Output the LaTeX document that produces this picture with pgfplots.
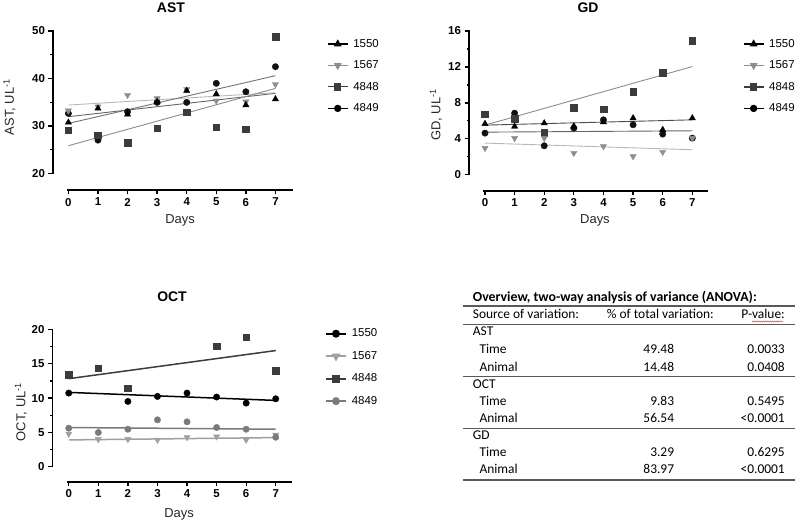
\documentclass[border=0pt]{standalone}
\usepackage{fontspec}
\setmainfont{Liberation Sans}
\newfontfamily\tablefont{Carlito}
\usepackage{pgfplots}
\pgfplotsset{compat=1.18}
\usetikzlibrary{decorations.pathmorphing}

\definecolor{cA}{HTML}{000000}
\definecolor{cB}{HTML}{8E8E8E}
\definecolor{cC}{HTML}{3C3C3C}
\definecolor{cD}{HTML}{111111}
\definecolor{oB}{HTML}{A0A0A0}
\definecolor{oD}{HTML}{7A7A7A}

\pgfplotsset{
  gp/.style={
    scale only axis, clip=false,
    axis x line*=bottom, axis y line*=left,
    axis line style={draw=none},
    tick align=outside,
    major tick length=4.5bp, minor tick length=2.5bp,
    tick style={black, line width=1.3bp},
    xtick={0,1,2,3,4,5,6,7},
    ticklabel style={font=\bfseries\fontsize{11.5}{13}\selectfont},
    /pgf/number format/assume math mode=true,
    label style={font=\fontsize{13}{15}\selectfont, text=black!85},
    legend style={draw=none, fill=none, inner sep=0pt, anchor=north west,
      font=\fontsize{11.5}{13}\selectfont, row sep=8bp, column sep=3bp},
    legend cell align=left,
    legend image code/.code={\draw[mark repeat=2,mark phase=2,#1] plot coordinates {(0bp,0bp) (10bp,0bp) (20bp,0bp)};},
  },
  mk/.style={only marks, mark size=3.3bp},
}
\tikzset{ptitle/.style={anchor=center, inner sep=0pt, font=\bfseries\fontsize{14}{16}\selectfont}}

\newcommand\TL[3]{\node[anchor=mid west, font=\tablefont\fontsize{13.5}{16}\selectfont, inner sep=0pt] at (#1,{522-#2}) {#3};}
\newcommand\TR[3]{\node[anchor=mid east, font=\tablefont\fontsize{13.5}{16}\selectfont, inner sep=0pt] at (#1,{522-#2}) {#3};}

\begin{document}
\begin{tikzpicture}
\useasboundingbox (0,0) rectangle (800bp,522bp);

% ---------------- AST ----------------
\begin{axis}[gp,
  at={(53bp,332bp)}, anchor=south west,
  width=240.2bp, height=159bp,
  xmin=-0.52, xmax=7.6, ymin=16.5, ymax=50,
  ytick={20,30,40,50}, minor ytick={25,35,45},
  xlabel={Days}, xlabel style={at={(axis description cs:0.529,-0.189)}, anchor=center},
  ylabel={AST, UL\textsuperscript{-1}}, ylabel style={at={(axis description cs:-0.181,0.522)}, anchor=center},
  legend style={at={(axis description cs:1.1407,0.962)}},
]
\addlegendimage{black, line width=1.1bp, mark=triangle*, mark size=3.5bp, mark options={solid}}
\addlegendimage{cB, line width=1.1bp, mark=triangle*, mark size=3.5bp, mark options={rotate=180}}
\addlegendimage{cC, line width=1.1bp, mark=square*, mark size=3.1bp}
\addlegendimage{black, line width=1.1bp, mark=*, mark size=3.1bp}
\legend{1550,1567,4848,4849}
% regression lines
\addplot[forget plot, color=black!60, line width=0.9bp] coordinates {(0,31.94) (7,36.86)};
\addplot[forget plot, color=black!28, line width=0.9bp] coordinates {(0,34.4) (7,37.0)};
\addplot[forget plot, color=black!45, line width=0.9bp] coordinates {(0,25.83) (7,37.91)};
\addplot[forget plot, color=black!55, line width=0.9bp] coordinates {(0,30.53) (7,40.58)};
% data
\addplot[forget plot, mk, mark=*, cD, mark size=3.2bp] coordinates {(0,32.64)(1,27.0)(2,33.0)(3,34.96)(4,34.96)(5,38.97)(6,37.2)(7,42.48)};
\addplot[forget plot, mk, mark=square*, cC] coordinates {(0,29.13)(1,28.07)(2,26.46)(3,29.48)(4,32.85)(5,29.69)(6,29.34)(7,48.8)};
\addplot[forget plot, mk, mark=triangle*, cB, mark size=3.6bp, mark options={rotate=180}] coordinates {(0,33.2)(1,34.05)(2,36.5)(3,35.8)(4,37.7)(5,35.3)(6,35.1)(7,38.76)};
\addplot[forget plot, mk, mark=triangle*, cA, mark size=3.6bp] coordinates {(0,30.74)(1,33.7)(2,32.43)(3,35.1)(4,37.42)(5,36.72)(6,34.4)(7,35.66)};
\draw[line width=1.8bp] (axis cs:-0.06,16.5) -- (axis cs:7.6,16.5);
\draw[line width=1.8bp] (axis cs:-0.52,19.85) -- (axis cs:-0.52,50.15);
\node[ptitle] at (axis description cs:0.491,1.145) {AST};
\end{axis}

% ---------------- GD ----------------
\begin{axis}[gp,
  at={(469bp,331.3bp)}, anchor=south west,
  width=239bp, height=159.7bp,
  xmin=-0.54, xmax=7.53, ymin=-1.78, ymax=16,
  ytick={0,4,8,12,16}, minor ytick={2,6,10,14},
  xlabel={Days}, xlabel style={at={(axis description cs:0.527,-0.183)}, anchor=center},
  ylabel={GD, UL\textsuperscript{-1}}, ylabel style={at={(axis description cs:-0.138,0.474)}, anchor=center},
  legend style={at={(axis description cs:1.146,0.962)}},
]
\addlegendimage{black, line width=1.1bp, mark=triangle*, mark size=3.5bp}
\addlegendimage{cB, line width=1.1bp, mark=triangle*, mark size=3.5bp, mark options={rotate=180}}
\addlegendimage{cC, line width=1.1bp, mark=square*, mark size=3.1bp}
\addlegendimage{black, line width=1.1bp, mark=*, mark size=3.1bp}
\legend{1550,1567,4848,4849}
\addplot[forget plot, color=black!70, line width=0.9bp] coordinates {(0,5.52) (7,6.11)};
\addplot[forget plot, color=black!28, line width=0.9bp] coordinates {(0,3.52) (7,2.78)};
\addplot[forget plot, color=black!45, line width=0.9bp] coordinates {(0,5.52) (7,12.04)};
\addplot[forget plot, color=black!60, line width=0.9bp] coordinates {(0,4.74) (7,4.89)};
\addplot[forget plot, mk, mark=*, cD, mark size=3.2bp] coordinates {(0,4.63)(1,6.85)(2,3.22)(3,5.19)(4,6.11)(5,5.56)(6,4.52)(7,4.07)};
\addplot[forget plot, mk, mark=square*, cC] coordinates {(0,6.74)(1,6.22)(2,4.70)(3,7.48)(4,7.30)(5,9.26)(6,11.37)(7,14.89)};
\addplot[forget plot, mk, mark=triangle*, cB, mark size=3.6bp, mark options={rotate=180}] coordinates {(0,2.96)(1,4.07)(2,4.07)(3,2.41)(4,3.15)(5,2.04)(6,2.52)(7,4.07)};
\addplot[forget plot, mk, mark=triangle*, cA, mark size=3.6bp] coordinates {(0,5.67)(1,5.37)(2,5.74)(3,5.4)(4,5.85)(5,6.3)(6,5.0)(7,6.3)};
\draw[line width=1.8bp] (axis cs:-0.06,-1.78) -- (axis cs:7.53,-1.78);
\draw[line width=1.8bp] (axis cs:-0.54,-0.08) -- (axis cs:-0.54,16.08);
\node[ptitle] at (axis description cs:0.498,1.144) {GD};
\end{axis}

% ---------------- OCT ----------------
\begin{axis}[gp,
  at={(52.5bp,40.3bp)}, anchor=south west,
  width=239.2bp, height=152.2bp,
  xmin=-0.55, xmax=7.54, ymin=-2.19, ymax=20,
  ytick={0,5,10,15,20}, minor ytick={2.5,7.5,12.5,17.5},
  xlabel={Days}, xlabel style={at={(axis description cs:0.529,-0.212)}, anchor=center},
  ylabel={OCT, UL\textsuperscript{-1}}, ylabel style={at={(axis description cs:-0.132,0.458)}, anchor=center},
  legend style={at={(axis description cs:1.139,1.018)}, row sep=9bp},
]
\addlegendimage{black, line width=1.7bp, mark=*, mark size=3.1bp}
\addlegendimage{oB, line width=1.7bp, mark=triangle*, mark size=3.5bp, mark options={rotate=180}}
\addlegendimage{cC, line width=1.7bp, mark=square*, mark size=3.1bp}
\addlegendimage{oD, line width=1.7bp, mark=*, mark size=3.1bp}
\legend{1550,1567,4848,4849}
\addplot[forget plot, color=black, line width=1.5bp] coordinates {(0,10.83) (7,9.66)};
\addplot[forget plot, color=oB, line width=1.5bp] coordinates {(0,3.9) (7,4.24)};
\addplot[forget plot, color=cC, line width=1.5bp] coordinates {(0,12.83) (7,16.93)};
\addplot[forget plot, color=oD, line width=1.5bp] coordinates {(0,5.71) (7,5.46)};
\addplot[forget plot, mk, mark=triangle*, oB, mark size=3.6bp, mark options={rotate=180}] coordinates {(0,4.78)(1,4.0)(2,4.0)(3,3.9)(4,4.29)(5,4.39)(6,3.9)(7,4.63)};
\addplot[forget plot, mk, mark=*, oD, mark size=3.2bp] coordinates {(0,5.61)(1,4.98)(2,5.46)(3,6.83)(4,6.54)(5,5.71)(6,5.46)(7,4.29)};
\addplot[forget plot, mk, mark=square*, cC] coordinates {(0,13.41)(1,14.34)(2,11.46)(5,17.56)(6,18.88)(7,14.0)};
\addplot[forget plot, mk, mark=*, black, mark size=3.2bp] coordinates {(0,10.73)(2,9.51)(3,10.24)(4,10.73)(5,10.15)(6,9.27)(7,9.9)};
\draw[line width=1.8bp] (axis cs:-0.06,-2.19) -- (axis cs:7.54,-2.19);
\draw[line width=1.8bp] (axis cs:-0.55,-0.1) -- (axis cs:-0.55,20.1);
\node[ptitle] at (axis description cs:0.4996,1.2135) {OCT};
\end{axis}

% ---------------- Table ----------------
\begin{scope}[x=1bp,y=1bp]
\node[anchor=mid west, font=\tablefont\bfseries\fontsize{13.9}{16}\selectfont, inner sep=0pt] at (472.7,{522-299.3}) {Overview, two-way analysis of variance (ANOVA):};
\draw[line width=1.2bp, black!65] (463.3,{522-306}) -- (795,{522-306});
\TL{472.7}{315.7}{Source of variation:}
\TL{606.7}{315.7}{\% of total variation:}
\TR{785}{315.7}{P-value:}
\draw[red!80, line width=0.5bp, decorate, decoration={snake, amplitude=0.6bp, segment length=2.2bp}] (752,{522-321.5}) -- (783,{522-321.5});
\draw[line width=1.2bp, black!65] (463.3,{522-324.3}) -- (795,{522-324.3});
\TL{472.7}{333.3}{AST}
\TL{479.3}{351}{Time}      \TR{674.3}{351}{49.48}   \TR{785}{351}{0.0033}
\TL{479.3}{368.5}{Animal}  \TR{674.3}{368.5}{14.48} \TR{785}{368.5}{0.0408}
\draw[line width=1.2bp, black!65] (463.3,{522-376.7}) -- (795,{522-376.7});
\TL{472.7}{386.3}{OCT}
\TL{479.3}{402.7}{Time}    \TR{674.3}{402.7}{9.83}  \TR{785}{402.7}{0.5495}
\TL{479.3}{419.5}{Animal}  \TR{674.3}{419.5}{56.54} \TR{785}{419.5}{<0.0001}
\draw[line width=1.2bp, black!65] (463.3,{522-428.2}) -- (795,{522-428.2});
\TL{472.7}{436.5}{GD}
\TL{479.3}{454}{Time}      \TR{674.3}{454}{3.29}    \TR{785}{454}{0.6295}
\TL{479.3}{471}{Animal}    \TR{674.3}{471}{83.97}   \TR{785}{471}{<0.0001}
\draw[line width=1.2bp, black!65] (463.3,{522-480}) -- (795,{522-480});
\end{scope}
\end{tikzpicture}
\end{document}
